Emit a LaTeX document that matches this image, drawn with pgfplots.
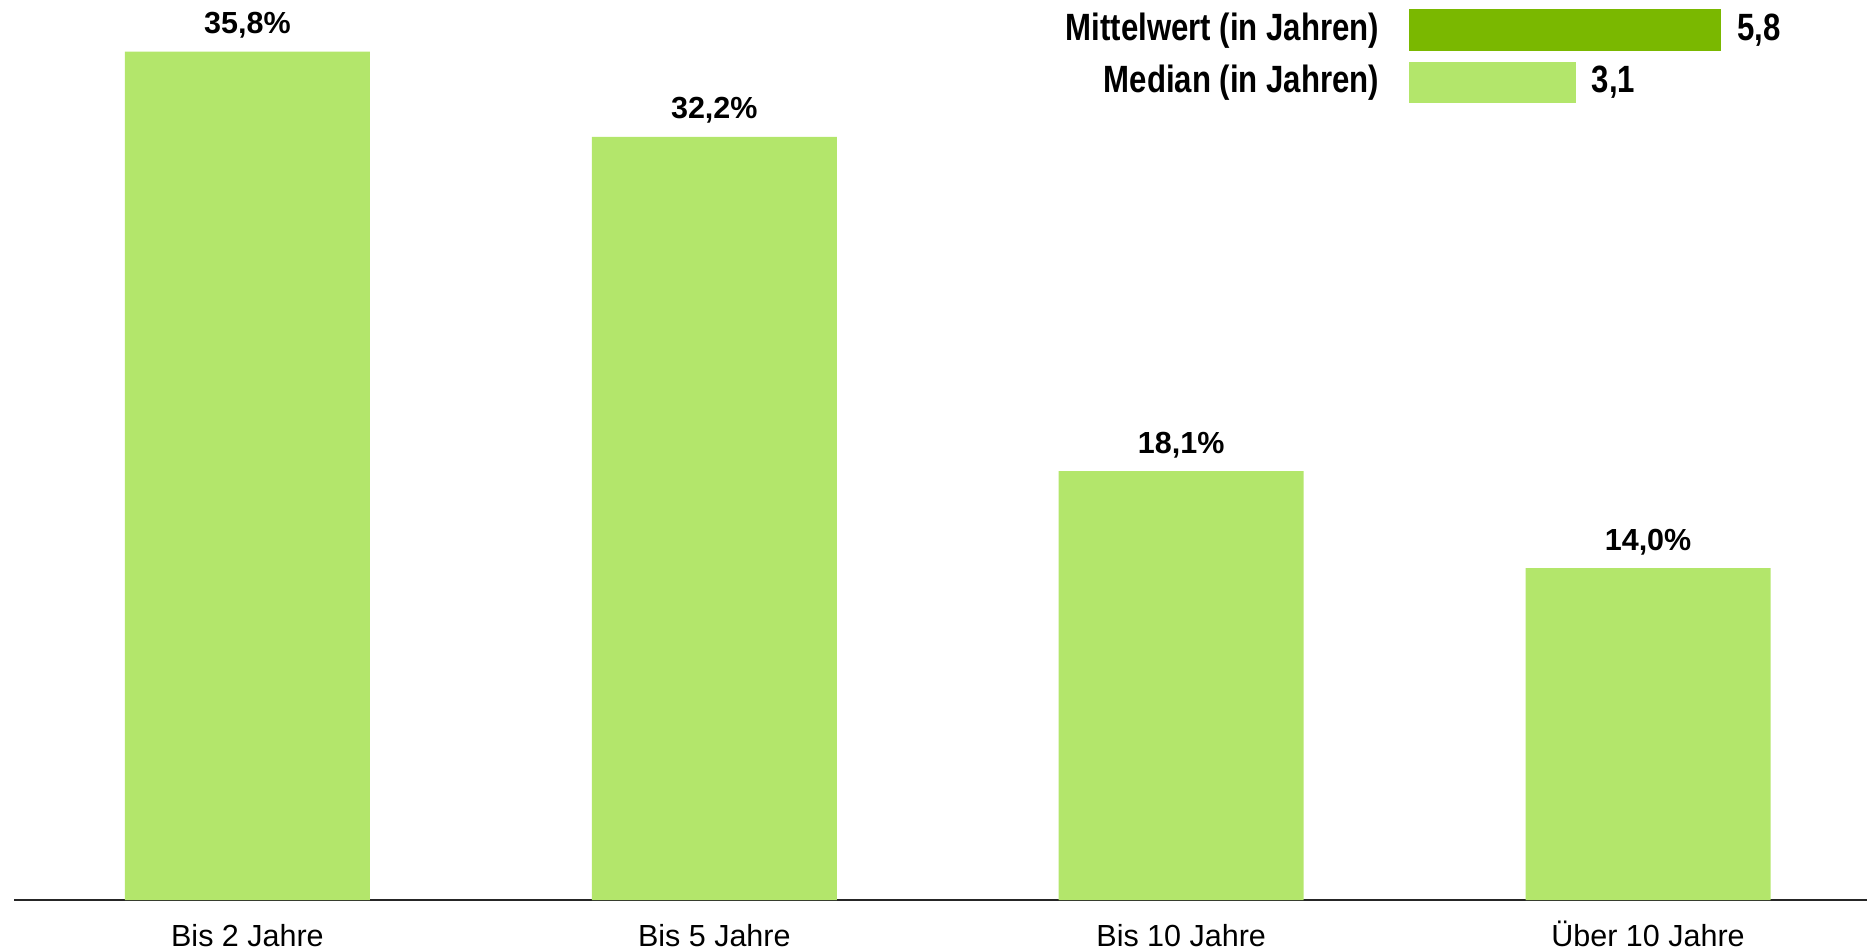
\documentclass[border=0pt]{standalone}
\usepackage{pgfplots}
\pgfplotsset{compat=1.18}
\usepackage{fontspec}
\setmainfont{Liberation Sans}
\definecolor{lightgreen}{HTML}{B3E66B}
\definecolor{darkgreen}{HTML}{7AB800}
\newcommand{\insetfont}[1]{\scalebox{0.82}[1]{\fontsize{38}{40}\selectfont\bfseries #1}}
\begin{document}
\begin{tikzpicture}
\begin{axis}[
  at={(14pt,51pt)}, anchor=south west,
  scale only axis, width=1853pt, height=900.6pt,
  xmin=-0.5, xmax=3.469, ymin=0, ymax=38,
  axis x line*=bottom, hide y axis,
  xtick={0,1,2,3},
  xticklabels={Bis 2 Jahre, Bis 5 Jahre, Bis 10 Jahre, Über 10 Jahre},
  xtick style={draw=none},
  xticklabel style={font=\fontsize{30.5}{36}\selectfont, anchor=base, inner sep=0pt, yshift=-42pt},
  axis line style={line width=1.2pt, color=black!85},
  ybar, bar width=245pt,
  nodes near coords, point meta=explicit symbolic,
  every node near coord/.append style={font=\fontsize{30.5}{36}\selectfont\bfseries, anchor=base, inner sep=0pt, yshift=18pt},
]
\addplot[fill=lightgreen, draw=none, bar shift=0pt] coordinates {(0,35.8) [{35,8\%}] (1,32.2) [{32,2\%}] (2,18.1) [{18,1\%}] (3,14.0) [{14,0\%}]};
\end{axis}
\begin{axis}[
  at={(1408.6pt,842.2pt)}, anchor=south west,
  scale only axis, width=350.35pt, height=104.6pt,
  xmin=0, xmax=6.5, ymin=-0.5, ymax=1.5,
  xbar, bar width=41.7pt,
  axis line style={draw=none}, tick style={draw=none},
  xtick=\empty, ytick={0,1},
  yticklabels={{\insetfont{Median (in Jahren)}}, {\insetfont{Mittelwert (in Jahren)}}},
  yticklabel style={anchor=east, inner sep=0pt, xshift=-25pt},
  nodes near coords, point meta=explicit symbolic,
  every node near coord/.append style={anchor=west, inner sep=0pt, xshift=16pt},
  clip=false,
]
\addplot[fill=darkgreen, draw=none, bar shift=0pt] coordinates {(5.8,1) [{\insetfont{5,8}}]};
\addplot[fill=lightgreen, draw=none, bar shift=0pt] coordinates {(3.1,0) [{\insetfont{3,1}}]};
\end{axis}
\pgfresetboundingbox
\useasboundingbox (0,0) rectangle (1867pt,951pt);
\end{tikzpicture}
\end{document}
